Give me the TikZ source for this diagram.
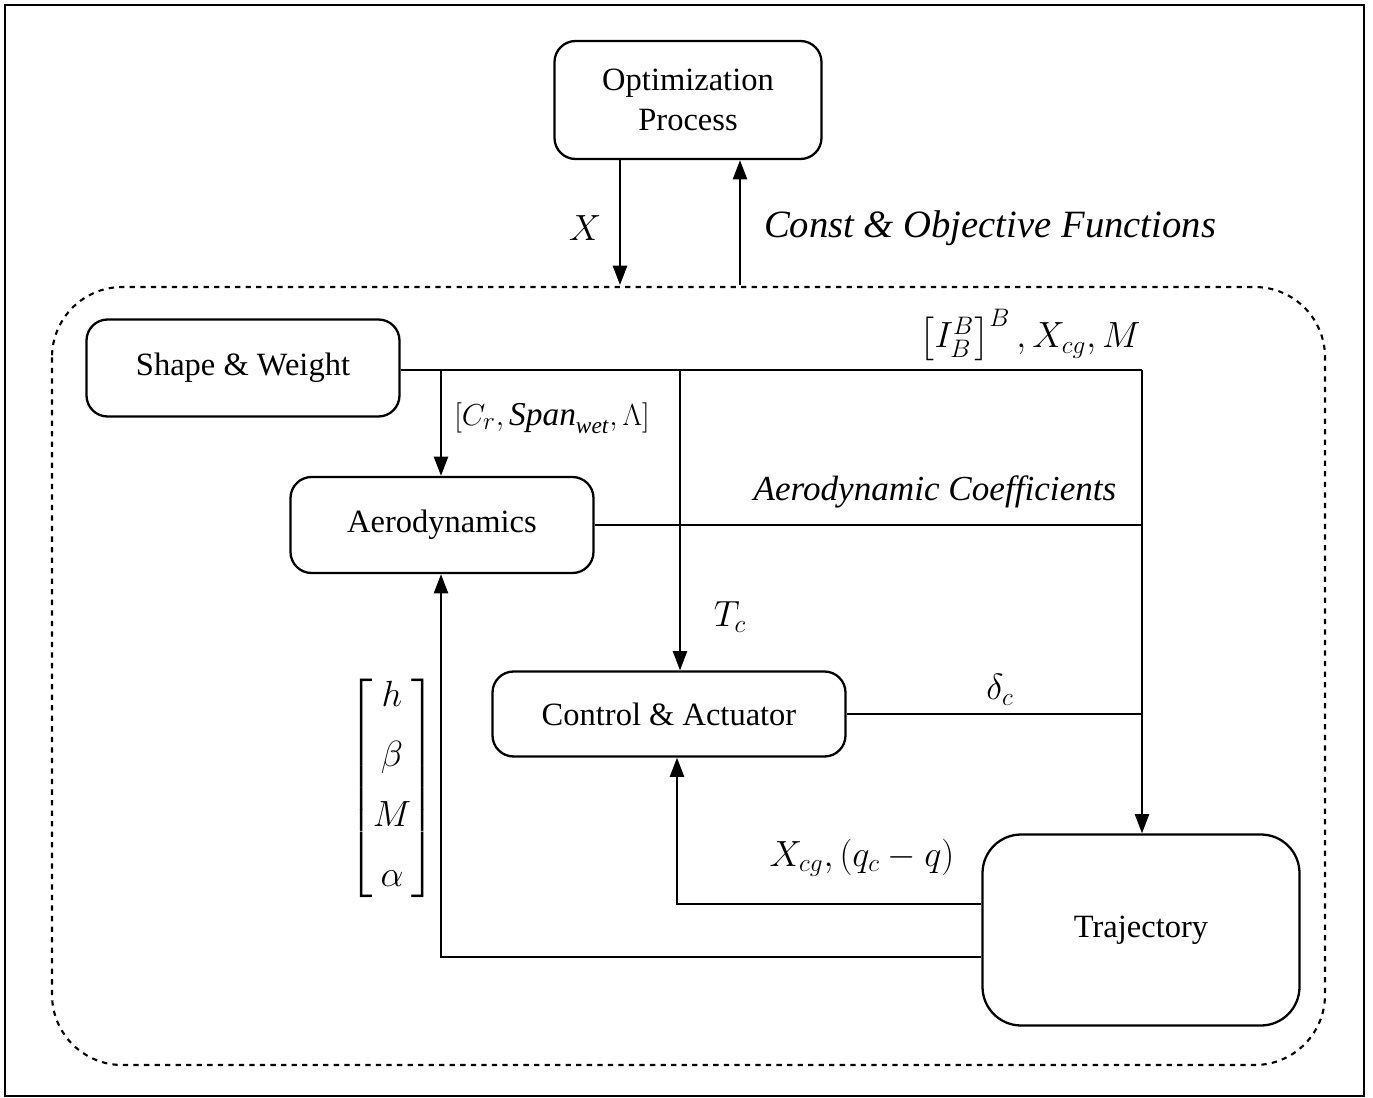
\documentclass[tikz,border=0pt]{standalone}
\usepackage{amsmath}
\usepackage{fontspec}
\setmainfont{Liberation Serif}
\usetikzlibrary{arrows.meta}
\begin{document}
\begin{tikzpicture}[x=0.02cm,y=-0.02cm,
  box/.style={draw,line width=1.3pt,rounded corners=12pt,inner sep=0pt,font=\fontsize{18.5}{23}\selectfont,align=center},
  ln/.style={line width=1.4pt},
  arr/.style={ln,-{Triangle[length=11pt,width=8pt]}},
  lab/.style={font=\fontsize{22}{26}\selectfont}]
\useasboundingbox (0,0) rectangle (1373,1098);
\draw[line width=1.2pt] (5,5) rectangle (1364,1096);
\draw[line width=1.2pt,dashed,rounded corners=40pt] (52,287) rectangle (1325,1065);
\node[box,minimum width=267*0.02cm,minimum height=118*0.02cm] (opt) at (688,100) {Optimization\\Process};
\node[box,minimum width=313*0.02cm,minimum height=97*0.02cm] (sw) at (243,368) {Shape \& Weight};
\node[box,minimum width=303*0.02cm,minimum height=96*0.02cm] (aero) at (442,525) {Aerodynamics};
\node[box,minimum width=353*0.02cm,minimum height=85*0.02cm] (ctrl) at (669,714) {Control \& Actuator};
\node[box,rounded corners=22pt,minimum width=317*0.02cm,minimum height=191*0.02cm] (traj) at (1141,930) {Trajectory};
\coordinate (dtop1) at (620,285);
\coordinate (dtop2) at (740,285);
\coordinate (j1) at (1142,370);
\draw[arr] (opt.south -| dtop1) -- (dtop1);
\draw[arr] (dtop2) -- (opt.south -| dtop2);
\node[lab] at (585,228) {$X$};
\node[lab,font=\fontsize{22}{26}\selectfont\itshape] at (990,228) {Const \& Objective Functions};
\draw[ln] (sw.east |- j1) -- (j1);
\draw[arr] (j1) -- (traj.north -| j1);
\coordinate (a1) at (441,370);
\coordinate (a2) at (680,370);
\draw[arr] (a1) -- (aero.north -| a1);
\draw[arr] (a2) -- (ctrl.north -| a2);
\node[lab,font=\fontsize{19}{22}\selectfont] at (552,418) {$[C_r, \textit{Span}_{\textit{wet}}, \Lambda]$};
\node[lab] at (730,617) {$T_c$};
\draw[ln] (aero.east) -- (aero.east -| j1);
\node[lab,font=\fontsize{20}{24}\selectfont\itshape] at (935,492) {Aerodynamic Coefficients};
\draw[ln] (ctrl.east) -- (ctrl.east -| j1);
\node[lab] at (1000,690) {$\delta_c$};
\node[lab,font=\fontsize{20}{24}\selectfont] at (1030,335) {$\left[I_B^B\right]^B, X_{cg}, M$};
\coordinate (b1) at (677,904);
\coordinate (b2) at (441,957);
\draw[arr] (traj.west |- b1) -- (b1) -- (ctrl.south -| b1);
\draw[arr] (traj.west |- b2) -- (b2) -- (aero.south -| b2);
\node[lab] at (862,858) {$X_{cg},(q_c-q)$};
\node[lab,font=\fontsize{20}{24}\selectfont] at (392,788) {$\begin{bmatrix} h\\[10pt] \beta\\[10pt] M\\[10pt] \alpha\end{bmatrix}$};
\end{tikzpicture}
\end{document}
